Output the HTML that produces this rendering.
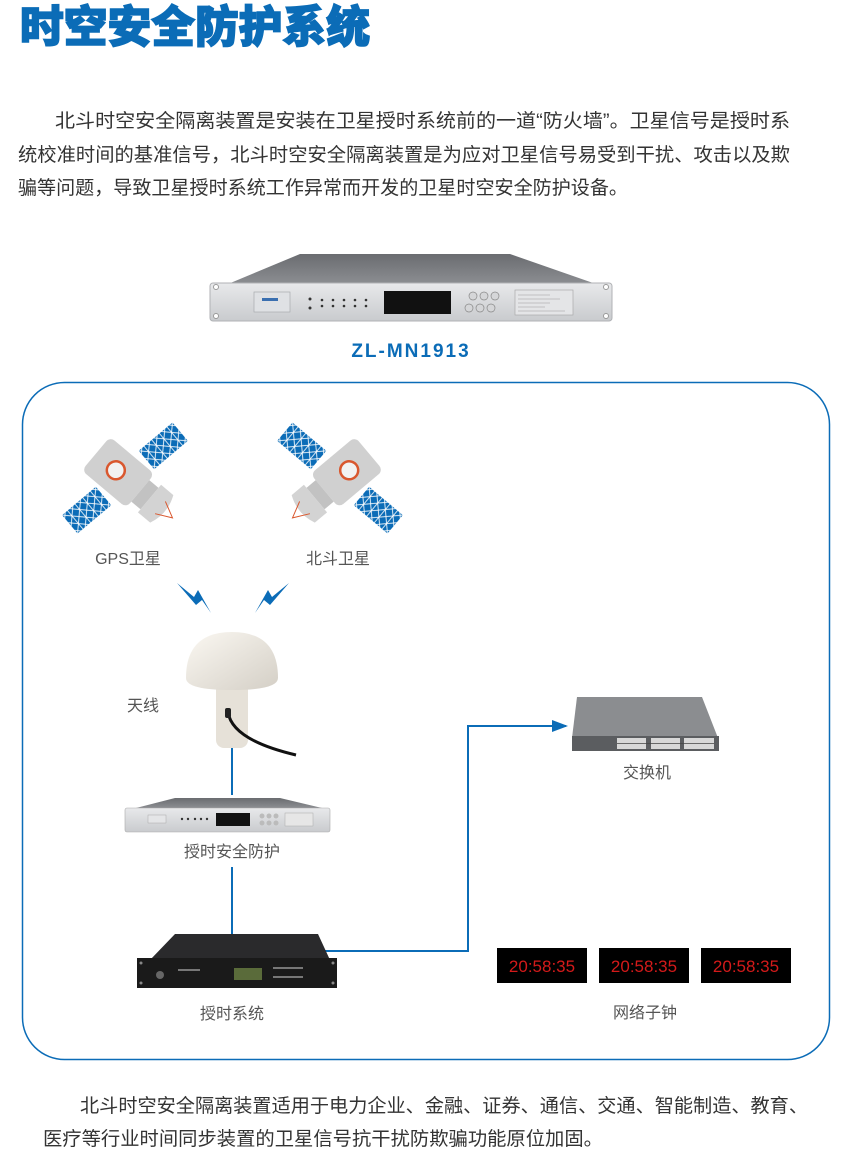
<!DOCTYPE html>
<html><head><meta charset="utf-8"><style>
html,body{margin:0;padding:0;background:#fff;}
svg{display:block;}
text{font-family:"Liberation Sans","Noto Sans CJK SC",sans-serif;}
</style></head><body>
<svg width="842" height="1152" viewBox="0 0 842 1152" xmlns="http://www.w3.org/2000/svg">
<defs>
<linearGradient id="top" x1="0" y1="0" x2="0" y2="1"><stop offset="0" stop-color="#6a6c70"/><stop offset="1" stop-color="#8c8e92"/></linearGradient>
<linearGradient id="silver" x1="0" y1="0" x2="0" y2="1"><stop offset="0" stop-color="#e8e9eb"/><stop offset="1" stop-color="#c9cbce"/></linearGradient>
<linearGradient id="dome" x1="0" y1="0" x2="1" y2="1"><stop offset="0" stop-color="#fbf8f2"/><stop offset="1" stop-color="#d4cfc6"/></linearGradient>
<pattern id="panel" width="10" height="10" patternUnits="userSpaceOnUse"><rect width="10" height="10" fill="#0b6cb7"/><path d="M0 0L10 10M10 0L0 10M5 0V10" stroke="#fff" stroke-width="0.8"/></pattern>
<marker id="arr" markerWidth="8" markerHeight="8" refX="7" refY="4" orient="auto"><path d="M0 1L8 4L0 7z" fill="#0b6cb7"/></marker>
</defs>

<text x="20" y="42" font-size="44" font-weight="900" fill="#0b6cb7" textLength="350" lengthAdjust="spacingAndGlyphs" stroke="#0b6cb7" stroke-width="1.5">时空安全防护系统</text>

<g font-size="19" fill="#333">
<text x="55" y="127" textLength="735" lengthAdjust="spacingAndGlyphs">北斗时空安全隔离装置是安装在卫星授时系统前的一道“防火墙”。卫星信号是授时系</text>
<text x="18" y="161" textLength="772" lengthAdjust="spacingAndGlyphs">统校准时间的基准信号，北斗时空安全隔离装置是为应对卫星信号易受到干扰、攻击以及欺</text>
<text x="18" y="194" textLength="610" lengthAdjust="spacingAndGlyphs">骗等问题，导致卫星授时系统工作异常而开发的卫星时空安全防护设备。</text>
<text x="80" y="1112" textLength="728" lengthAdjust="spacingAndGlyphs">北斗时空安全隔离装置适用于电力企业、金融、证券、通信、交通、智能制造、教育、</text>
<text x="43" y="1145" textLength="560" lengthAdjust="spacingAndGlyphs">医疗等行业时间同步装置的卫星信号抗干扰防欺骗功能原位加固。</text>
</g>

<!-- main device -->
<g>
<path d="M228 284L300 254L510 254L596 284Z" fill="url(#top)"/>
<rect x="210" y="283" width="402" height="38" rx="3" fill="url(#silver)" stroke="#b0b2b5"/>
<circle cx="216" cy="287" r="2.5" fill="#fff" stroke="#999"/><circle cx="216" cy="316" r="2.5" fill="#fff" stroke="#999"/>
<circle cx="606" cy="287" r="2.5" fill="#fff" stroke="#999"/><circle cx="606" cy="316" r="2.5" fill="#fff" stroke="#999"/>
<rect x="254" y="292" width="36" height="20" fill="#dfe1e4" stroke="#a8abae" stroke-width="0.7"/>
<rect x="262" y="298" width="16" height="3" fill="#3a6fb0"/>
<g fill="#333"><circle cx="310" cy="299" r="1.5"/><circle cx="310" cy="308" r="1.5"/><circle cx="322" cy="300" r="1.3"/><circle cx="333" cy="300" r="1.3"/><circle cx="344" cy="300" r="1.3"/><circle cx="355" cy="300" r="1.3"/><circle cx="366" cy="300" r="1.3"/><circle cx="322" cy="306" r="1.3"/><circle cx="333" cy="306" r="1.3"/><circle cx="344" cy="306" r="1.3"/><circle cx="355" cy="306" r="1.3"/><circle cx="366" cy="306" r="1.3"/></g>
<rect x="384" y="291" width="67" height="23" fill="#111"/>
<g fill="#d5d6d8" stroke="#888" stroke-width="0.7"><circle cx="473" cy="296" r="4"/><circle cx="484" cy="296" r="4"/><circle cx="495" cy="296" r="4"/><circle cx="469" cy="308" r="4"/><circle cx="480" cy="308" r="4"/><circle cx="491" cy="308" r="4"/></g>
<rect x="515" y="290" width="58" height="25" fill="#e4e5e7" stroke="#aaa" stroke-width="0.7"/>
<g stroke="#999" stroke-width="0.6"><line x1="518" y1="295" x2="550" y2="295"/><line x1="518" y1="299" x2="560" y2="299"/><line x1="518" y1="303" x2="550" y2="303"/><line x1="518" y1="307" x2="545" y2="307"/><line x1="518" y1="311" x2="565" y2="311"/></g>
</g>
<text x="411" y="357" font-size="19" font-weight="bold" fill="#0b6cb7" text-anchor="middle" letter-spacing="2">ZL-MN1913</text>

<!-- frame -->
<rect x="22.5" y="382.5" width="807" height="677" rx="42" fill="none" stroke="#0b6cb7" stroke-width="1.5"/>

<!-- left satellite -->
<g transform="translate(125,478) rotate(-40)">
<rect x="-72" y="-12" width="44" height="24" fill="url(#panel)"/>
<rect x="28" y="-12" width="44" height="24" fill="url(#panel)"/>
</g>
<g transform="translate(125,478) rotate(40)">
<rect x="-38" y="-22" width="58" height="44" rx="6" fill="#d0d0d0"/>
<circle cx="-12" cy="0" r="9" fill="#f2f2f2" stroke="#d9572e" stroke-width="2.5"/>
<rect x="20" y="-14" width="12" height="28" fill="#c2c2c2"/>
<path d="M32 -18 L48 -18 Q56 0 48 18 L32 18Z" fill="#d3d3d3"/>
<path d="M46 -8 L62 0 L46 8" fill="none" stroke="#d9572e" stroke-width="1"/>
</g>
<!-- right satellite -->
<g transform="translate(340,478) rotate(40)">
<rect x="-72" y="-12" width="44" height="24" fill="url(#panel)"/>
<rect x="28" y="-12" width="44" height="24" fill="url(#panel)"/>
</g>
<g transform="translate(340,478) rotate(140)">
<rect x="-38" y="-22" width="58" height="44" rx="6" fill="#d0d0d0"/>
<circle cx="-12" cy="0" r="9" fill="#f2f2f2" stroke="#d9572e" stroke-width="2.5"/>
<rect x="20" y="-14" width="12" height="28" fill="#c2c2c2"/>
<path d="M32 -18 L48 -18 Q56 0 48 18 L32 18Z" fill="#d3d3d3"/>
<path d="M46 -8 L62 0 L46 8" fill="none" stroke="#d9572e" stroke-width="1"/>
</g>

<g font-size="16" fill="#555" text-anchor="middle">
<text x="128" y="564">GPS卫星</text>
<text x="338" y="564">北斗卫星</text>
<text x="143" y="711">天线</text>
<text x="232" y="857">授时安全防护</text>
<text x="232" y="1019">授时系统</text>
<text x="647" y="778">交换机</text>
<text x="645" y="1018">网络子钟</text>
</g>

<!-- bolts -->
<path d="M177 583L194 597L198 590L211 613L202 600L196 605Z" fill="#0b6cb7"/>
<path d="M289 583L272 597L268 590L255 613L264 600L270 605Z" fill="#0b6cb7"/>

<!-- antenna -->
<rect x="216" y="680" width="32" height="68" rx="8" fill="#e6e1d8"/>
<path d="M186 678 Q186 632 232 632 Q278 632 278 678 Q278 690 232 690 Q186 690 186 678Z" fill="url(#dome)"/>
<path d="M228 712 Q232 740 296 755" fill="none" stroke="#111" stroke-width="3"/>
<rect x="225" y="708" width="6" height="10" rx="2" fill="#222"/>

<!-- connectors -->
<g stroke="#0b6cb7" stroke-width="2" fill="none">
<line x1="232" y1="748" x2="232" y2="795"/>
<line x1="232" y1="867" x2="232" y2="935"/>
<polyline points="318,951 468,951 468,726 566,726" marker-end="url(#arr)"/>
</g>

<!-- device 2 -->
<path d="M136 808L175 798L280 798L322 808Z" fill="url(#top)"/>
<rect x="125" y="808" width="205" height="24" rx="2" fill="url(#silver)" stroke="#aaa" stroke-width="0.6"/>
<rect x="148" y="815" width="18" height="8" fill="#e4e5e7" stroke="#aaa" stroke-width="0.5"/>
<g fill="#333"><circle cx="182" cy="819" r="1.2"/><circle cx="188" cy="819" r="1.2"/><circle cx="195" cy="819" r="1.2"/><circle cx="201" cy="819" r="1.2"/><circle cx="207" cy="819" r="1.2"/></g>
<rect x="216" y="813" width="34" height="13" fill="#111"/>
<g fill="#bbb"><circle cx="262" cy="816" r="2.5"/><circle cx="269" cy="816" r="2.5"/><circle cx="276" cy="816" r="2.5"/><circle cx="262" cy="823" r="2.5"/><circle cx="269" cy="823" r="2.5"/><circle cx="276" cy="823" r="2.5"/></g>
<rect x="285" y="813" width="28" height="13" fill="#e6e6e6" stroke="#aaa" stroke-width="0.5"/>

<!-- device 3 (black) -->
<path d="M150 960L175 934L318 934L330 960Z" fill="#2a2a2c"/>
<rect x="137" y="958" width="200" height="30" fill="#1a1a1a"/>
<circle cx="141" cy="963" r="1.5" fill="#888"/><circle cx="141" cy="983" r="1.5" fill="#888"/><circle cx="333" cy="963" r="1.5" fill="#888"/><circle cx="333" cy="983" r="1.5" fill="#888"/>
<circle cx="160" cy="975" r="4" fill="#666"/>
<rect x="234" y="968" width="28" height="12" fill="#5a6b3a"/>
<g fill="#777"><rect x="178" y="969" width="22" height="2"/><rect x="273" y="967" width="30" height="2"/><rect x="273" y="976" width="30" height="2"/></g>

<!-- switch -->
<path d="M577 697L702 697L718 738L572 738Z" fill="#8b8d90"/>
<rect x="572" y="736" width="147" height="15" fill="#5b5d60"/>
<g fill="#d8d8d8">
<rect x="617" y="738" width="29" height="11"/><rect x="651" y="738" width="29" height="11"/><rect x="684" y="738" width="30" height="11"/>
</g>
<g stroke="#444" stroke-width="0.8">
<line x1="617" y1="743.5" x2="714" y2="743.5"/>
</g>

<!-- clocks -->
<g>
<rect x="497" y="948" width="90" height="35" fill="#000"/>
<rect x="599" y="948" width="90" height="35" fill="#000"/>
<rect x="701" y="948" width="90" height="35" fill="#000"/>
<g font-size="17" fill="#d41a1a" text-anchor="middle">
<text x="542" y="972">20:58:35</text>
<text x="644" y="972">20:58:35</text>
<text x="746" y="972">20:58:35</text>
</g>
</g>
</svg>
</body></html>
